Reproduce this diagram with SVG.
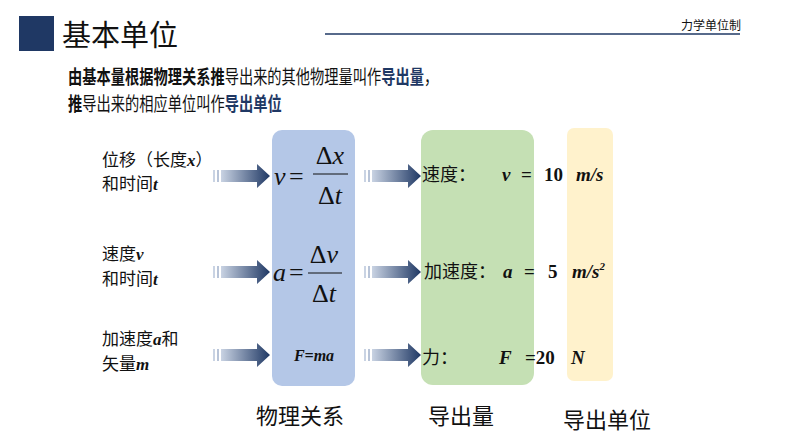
<svg xmlns="http://www.w3.org/2000/svg" width="794" height="447" viewBox="0 0 794 447">
<style>
.cn{font-family:"Noto Sans CJK SC","Noto Sans",sans-serif;fill:#111}
.m{font-family:"Liberation Serif",serif;fill:#111}
.b{font-weight:bold}
.i{font-style:italic}
.nv{fill:#1f3864;font-weight:bold}
</style>
<defs>
<linearGradient id="g" x1="0" x2="1" y1="0" y2="0">
<stop offset="0" stop-color="#c9d3e3"/><stop offset="1" stop-color="#1f3864"/>
</linearGradient>
<g id="arr">
<rect x="0" y="-6" width="2" height="12" fill="#c9d3e3"/>
<rect x="4" y="-6" width="2" height="12" fill="#b8c4d8"/>
<path d="M8,-6 H44 V-12 L57,0 L44,12 V6 H8 Z" fill="url(#g)"/>
</g>
</defs>
<rect width="794" height="447" fill="#fff"/>
<g id="header">
<rect x="19" y="16" width="35" height="35" fill="#1f3864"/>
<text x="62" y="46" class="cn" font-size="29">基本单位</text>
<line x1="325" y1="34" x2="740" y2="34" stroke="#1f3864" stroke-width="1.5"/>
<text x="741" y="30" class="cn" font-size="12" text-anchor="end">力学单位制</text>
</g>
<g id="intro" class="cn" font-size="19" transform="translate(68,0) scale(0.75,1)">
<text x="0" y="84"><tspan class="b">由基本量根据物理关系推</tspan><tspan>导出来的其他物理量叫作</tspan><tspan class="nv">导出量</tspan><tspan>，</tspan></text>
<text x="0" y="111"><tspan class="b">推</tspan><tspan>导出来的相应单位叫作</tspan><tspan class="nv">导出单位</tspan></text>
</g>
<g id="boxes">
<rect x="272" y="130" width="83" height="256" rx="10" fill="#b4c7e7"/>
<rect x="421" y="130" width="113" height="255" rx="12" fill="#c5e0b4"/>
<rect x="567" y="128" width="46" height="253" rx="7" fill="#fff2cc"/>
</g>
<g id="inputs" class="cn" font-size="17">
<text x="102" y="166">位移（长度<tspan class="m b i">x</tspan>）</text>
<text x="102" y="190">和时间<tspan class="m b i">t</tspan></text>
<text x="102" y="260">速度<tspan class="m b i">v</tspan></text>
<text x="102" y="285">和时间<tspan class="m b i">t</tspan></text>
<text x="102" y="345">加速度<tspan class="m b i">a</tspan>和</text>
<text x="102" y="370">矢量<tspan class="m b i">m</tspan></text>
</g>
<g id="connectors">
<use href="#arr" x="213" y="176"/>
<use href="#arr" x="213" y="272"/>
<use href="#arr" x="213" y="355"/>
<use href="#arr" x="364" y="176"/>
<use href="#arr" x="364" y="272"/>
<use href="#arr" x="364" y="355"/>
</g>
<g id="formulas" class="m" font-size="26">
<text x="274" y="185" class="i">v</text><text x="289" y="185">=</text>
<text x="330" y="164" text-anchor="middle">Δ<tspan class="i">x</tspan></text>
<line x1="313" y1="174" x2="348" y2="174" stroke="#111" stroke-width="1"/>
<text x="330" y="204" text-anchor="middle">Δ<tspan class="i">t</tspan></text>
<text x="273" y="281" class="i">a</text><text x="289" y="281">=</text>
<text x="324" y="263" text-anchor="middle">Δ<tspan class="i">v</tspan></text>
<line x1="308" y1="273" x2="342" y2="273" stroke="#111" stroke-width="1"/>
<text x="324" y="302" text-anchor="middle">Δ<tspan class="i">t</tspan></text>
<text x="314" y="361" font-size="16" class="b i" text-anchor="middle">F=ma</text>
</g>
<g id="outputs" font-size="19">
<text x="422" y="181" class="cn" font-size="18">速度：</text>
<text x="502" y="181" class="m b i">v</text><text x="521" y="181" class="m b">=</text><text x="544" y="181" class="m b">10</text><text x="576" y="181" class="m b i">m/s</text>
<text x="424" y="278" class="cn" font-size="18">加速度：</text>
<text x="503" y="278" class="m b i">a</text><text x="524" y="278" class="m b">=</text><text x="548" y="278" class="m b">5</text><text x="572" y="278" class="m b i">m/s<tspan font-size="11" dy="-8">2</tspan></text>
<text x="422" y="364" class="cn" font-size="18">力：</text>
<text x="499" y="364" class="m b i">F</text><text x="525" y="364" class="m b">=20</text><text x="571" y="364" class="m b i">N</text>
</g>
<g id="labels" class="cn" font-size="22">
<text x="256" y="424">物理关系</text>
<text x="428" y="424">导出量</text>
<text x="563" y="428">导出单位</text>
</g>
</svg>
